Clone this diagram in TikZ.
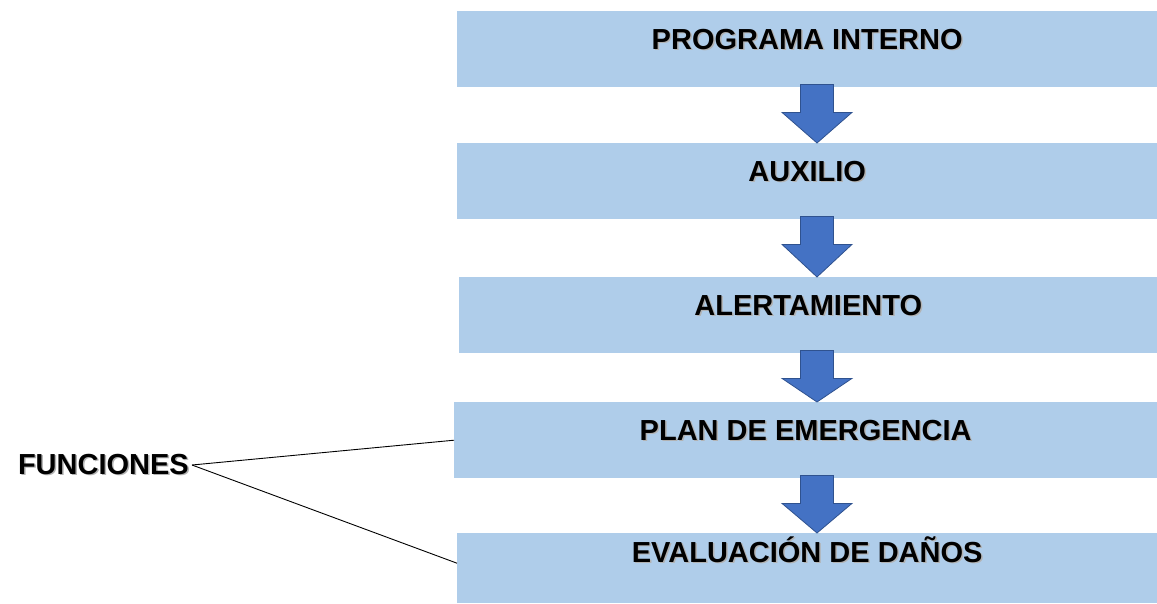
\documentclass[tikz,border=0pt]{standalone}
\usepackage{fontspec}
\setmainfont{Liberation Sans}
\usetikzlibrary{calc}

\definecolor{cajaazul}{RGB}{175,205,234}
\definecolor{flechaazul}{RGB}{68,114,196}
\definecolor{bordeazul}{RGB}{47,82,143}

% texto con sombra suave
\newcommand{\sombra}[1]{\makebox[0pt][l]{\kern1.5pt\raisebox{-1.5pt}{\textcolor{black!30}{#1}}}#1}

% flecha de bloque entre dos cajas
\newcommand{\flecha}[2]{%
  \draw[flecha] ($(eje |- #1.south)+(-16.5,-3)$) -- ++(33,0) -- ++(0,28) -- ++(18.5,0)
    -- (eje |- #2.north) -- ($(eje |- #1.south)+(-35,25)$) -- ++(18.5,0) -- cycle;
}

\tikzset{
  caja/.style={rectangle, fill=cajaazul, anchor=north west, inner sep=0pt,
    minimum width=700pt, minimum height=76pt, text height=21pt, text depth=21pt,
    font=\fontsize{29}{30}\selectfont\bfseries},
  flecha/.style={fill=flechaazul, draw=bordeazul, line width=0.8pt, line join=miter},
  enlace/.style={draw=black, line width=0.9pt}
}

\begin{document}
\begin{tikzpicture}[x=1pt, y=-1pt]
  \useasboundingbox (0,0) rectangle (1157,603);

  % Cajas del programa
  \node[caja] (programa) at (457,11) {\sombra{PROGRAMA INTERNO}};
  \node[caja] (auxilio) at (457,143) {\sombra{AUXILIO}};
  \node[caja, minimum width=698pt] (alerta) at (459,277) {\sombra{ALERTAMIENTO}};
  \node[caja, minimum width=703pt] (plan) at (454,402) {\sombra{PLAN DE EMERGENCIA}};
  \node[caja, minimum height=70pt, text depth=33pt] (evaluacion) at (457,533) {\sombra{EVALUACIÓN DE DAÑOS}};

  % Flechas hacia abajo
  \coordinate (eje) at (817,0);
  \flecha{programa}{auxilio}
  \flecha{auxilio}{alerta}
  \flecha{alerta}{plan}
  \flecha{plan}{evaluacion}

  % Funciones
  \node[anchor=east, inner sep=3pt, font=\fontsize{29}{30}\selectfont\bfseries] (funciones) at (192,465) {\sombra{FUNCIONES}};
  \draw[enlace] (funciones.east) -- (plan.west);
  \draw[enlace] (funciones.east) -- ([yshift=5pt]evaluacion.west);

\end{tikzpicture}
\end{document}
